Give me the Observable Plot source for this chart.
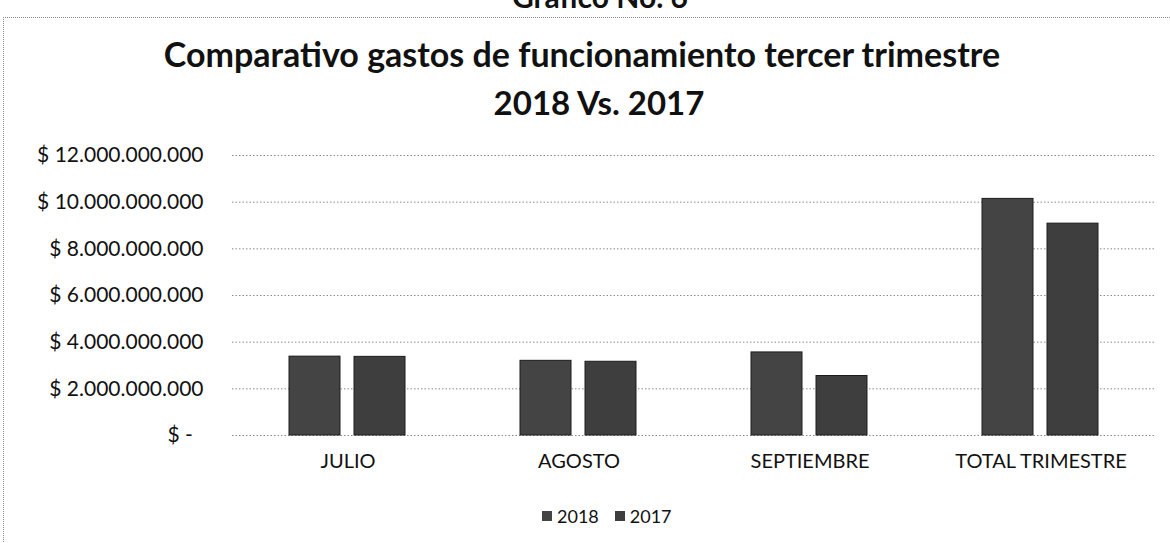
<!DOCTYPE html>
<html>
<head>
<meta charset="utf-8">
<script src="https://cdn.jsdelivr.net/npm/d3@7"></script>
<script src="https://cdn.jsdelivr.net/npm/@observablehq/plot@0.6"></script>
<style>
  html, body { margin: 0; padding: 0; background: #fff; }
  #wrap { position: relative; width: 1170px; height: 543px; overflow: hidden; font-family: Lato, "Open Sans", sans-serif; color: #111; }
  #frame { position: absolute; left: 3px; top: 17px; width: 1200px; height: 600px; border-top: 1px dotted #8a8a8a; border-left: 1px dotted #8a8a8a; }
  #sup { position: absolute; left: 0; width: 1200px; top: -22px; text-align: center; font-weight: 700; font-size: 30px; }
  .title { position: absolute; left: 0; width: 1170px; text-align: center; font-weight: 700; }
  #t1 { top: 37px; left: -3px; font-size: 34px; line-height: 34px; }
  #t2 { top: 86px; left: 14px; font-size: 33px; line-height: 33px; }
  #chart { position: absolute; left: 0; top: 130px; }
  #legend { position: absolute; top: 505px; left: 542px; font-size: 18px; line-height: 22px; display: flex; align-items: center; white-space: nowrap; }
  #legend span.item { display: inline-flex; align-items: center; margin-right: 16px; }
  #legend span.sw { display: inline-block; width: 10px; height: 10px; margin-right: 5px; }
</style>
</head>
<body>
<div id="wrap">
  <div id="frame"></div>
  <div id="sup">Gráfico No. 6</div>
  <div class="title" id="t1">Comparativo gastos de funcionamiento tercer trimestre</div>
  <div class="title" id="t2">2018 Vs. 2017</div>
  <div id="chart"></div>
  <div id="legend"></div>
</div>
<script>
const categories = ["JULIO", "AGOSTO", "SEPTIEMBRE", "TOTAL TRIMESTRE"];
const series = ["2018", "2017"];
const values2018 = [3380000000, 3200000000, 3560000000, 10140000000];
const values2017 = [3370000000, 3160000000, 2550000000, 9080000000];
const yTicks = [0, 2000000000, 4000000000, 6000000000, 8000000000, 10000000000, 12000000000];
const seriesColors = ["#444444", "#3e3e3e"];

const data = categories.flatMap((c, i) => [
  {cat: c, year: series[0], value: values2018[i]},
  {cat: c, year: series[1], value: values2017[i]}
]);

const fmt = d => d === 0 ? "$ -\u00a0\u00a0" : "$ " + d3.format(",")(d).replace(/,/g, ".");

const chart = Plot.plot({
  width: 1170,
  height: 360,
  marginLeft: 231,
  marginRight: 13,
  marginTop: 25,
  marginBottom: 55,
  style: {fontFamily: "Lato, 'Open Sans', sans-serif", fontSize: "20px", color: "#111", background: "transparent", overflow: "visible"},
  fx: {domain: categories, padding: 0, label: null},
  x: {domain: series, paddingInner: 0.212, paddingOuter: 0.86, axis: null},
  y: {domain: [0, 12000000000], axis: null},
  color: {domain: series, range: seriesColors},
  marks: [
    Plot.ruleY(yTicks, {stroke: "#8a8a8a", strokeDasharray: "1.5,2", strokeWidth: 1}),
    Plot.barY(data, {fx: "cat", x: "year", y: "value", fill: "year", stroke: "#1c1c1c", strokeWidth: 1}),
    Plot.axisY(yTicks, {tickFormat: fmt, tickSize: 0, tickPadding: 29, label: null, fontSize: 21}),
    Plot.axisFx({anchor: "bottom", tickSize: 0, tickPadding: 18, label: null, fontSize: 20})
  ]
});
document.getElementById("chart").appendChild(chart);

const legend = document.getElementById("legend");
series.forEach((s, i) => {
  const item = document.createElement("span");
  item.className = "item";
  const sw = document.createElement("span");
  sw.className = "sw";
  sw.style.background = seriesColors[i];
  item.appendChild(sw);
  item.appendChild(document.createTextNode(s));
  legend.appendChild(item);
});
</script>
</body>
</html>
